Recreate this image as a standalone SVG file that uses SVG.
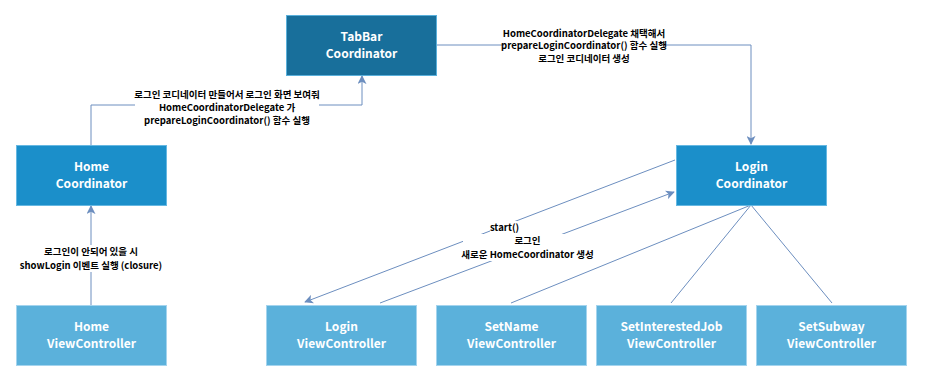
<svg xmlns="http://www.w3.org/2000/svg" width="926" height="380" viewBox="0 0 926 380">
<defs>
<marker id="arr" viewBox="0 0 10 10" refX="9" refY="5" markerWidth="9" markerHeight="9" markerUnits="userSpaceOnUse" orient="auto">
<path d="M0,0 L10,5 L0,10 L2.5,5 z" fill="#6c8ebf"/>
</marker>
<style>
.conn{fill:none;stroke:#6c8ebf;stroke-width:1}
.nt{font-family:"Noto Sans CJK KR","Noto Sans",sans-serif;font-weight:bold;font-size:12px;fill:#ffffff;text-anchor:middle}
.lt{font-family:"Noto Sans CJK KR","Noto Sans",sans-serif;font-weight:bold;font-size:9.5px;fill:#000000;text-anchor:middle}
.bg{fill:#ffffff}
.dark{fill:#186f9b;stroke:#5ab0db}
.mid{fill:#1b8fca;stroke:#66b8e2}
.light{fill:#5bb1db;stroke:#a4d4ee}
</style>
</defs>
<rect width="926" height="380" fill="#ffffff"/>
<g id="connectors">
<path class="conn" d="M91,145 V105 H362 V76" marker-end="url(#arr)"/>
<path class="conn" d="M437,45 H751 V144" marker-end="url(#arr)"/>
<path class="conn" d="M91,305 V206" marker-end="url(#arr)"/>
<path class="conn" d="M675,160 L305,302" marker-end="url(#arr)"/>
<path class="conn" d="M380,303 L674,192" marker-end="url(#arr)"/>
<path class="conn" d="M751,205 L511,303"/>
<path class="conn" d="M751,205 L671,303"/>
<path class="conn" d="M751,205 L832,303"/>
<g id="label-home-tabbar">
<rect class="bg" x="135" y="88" width="184" height="38"/>
<text class="lt" x="227" y="98">로그인 코디네이터 만들어서 로그인 화면 보여줘</text>
<text class="lt" x="227" y="111">HomeCoordinatorDelegate 가</text>
<text class="lt" x="227" y="124">prepareLoginCoordinator() 함수 실행</text>
</g>
<g id="label-tabbar-login">
<rect class="bg" x="504" y="27" width="160" height="38"/>
<text class="lt" x="584" y="36.5">HomeCoordinatorDelegate 채택해서</text>
<text class="lt" x="584" y="49">prepareLoginCoordinator() 함수 실행</text>
<text class="lt" x="584" y="62">로그인 코디네이터 생성</text>
</g>
<g id="label-homevc">
<rect class="bg" x="22" y="245" width="139" height="27"/>
<text class="lt" x="91" y="254.5">로그인이 안되어 있을 시</text>
<text class="lt" x="91" y="268.5">showLogin 이벤트 실행 (closure)</text>
</g>
<g id="label-start">
<rect class="bg" x="490" y="221" width="30" height="12"/>
<text class="lt" x="504.5" y="231">start()</text>
</g>
<g id="label-login">
<rect class="bg" x="463" y="234" width="129" height="27"/>
<text class="lt" x="527.5" y="243.5">로그인</text>
<text class="lt" x="527.5" y="258">새로운 HomeCoordinator 생성</text>
</g>
</g>
<g id="tabbar-coordinator">
<rect class="dark" x="286.5" y="15.5" width="150" height="60"/>
<text class="nt" x="361.5" y="40.5">TabBar</text>
<text class="nt" x="361.5" y="57.5">Coordinator</text>
</g>
<g id="home-coordinator">
<rect class="mid" x="16.5" y="145.5" width="150" height="60"/>
<text class="nt" x="91.5" y="171">Home</text>
<text class="nt" x="91.5" y="188">Coordinator</text>
</g>
<g id="login-coordinator">
<rect class="mid" x="676.5" y="145.5" width="150" height="60"/>
<text class="nt" x="751.5" y="171">Login</text>
<text class="nt" x="751.5" y="188">Coordinator</text>
</g>
<g id="home-viewcontroller">
<rect class="light" x="16.5" y="305.5" width="150" height="60"/>
<text class="nt" x="91.5" y="331">Home</text>
<text class="nt" x="91.5" y="348">ViewController</text>
</g>
<g id="login-viewcontroller">
<rect class="light" x="266.5" y="305.5" width="150" height="60"/>
<text class="nt" x="341.5" y="331">Login</text>
<text class="nt" x="341.5" y="348">ViewController</text>
</g>
<g id="setname-viewcontroller">
<rect class="light" x="436.5" y="305.5" width="150" height="60"/>
<text class="nt" x="511.5" y="331">SetName</text>
<text class="nt" x="511.5" y="348">ViewController</text>
</g>
<g id="setinterestedjob-viewcontroller">
<rect class="light" x="596.5" y="305.5" width="150" height="60"/>
<text class="nt" x="671.5" y="331">SetInterestedJob</text>
<text class="nt" x="671.5" y="348">ViewController</text>
</g>
<g id="setsubway-viewcontroller">
<rect class="light" x="756.5" y="305.5" width="150" height="60"/>
<text class="nt" x="831.5" y="331">SetSubway</text>
<text class="nt" x="831.5" y="348">ViewController</text>
</g>
</svg>
